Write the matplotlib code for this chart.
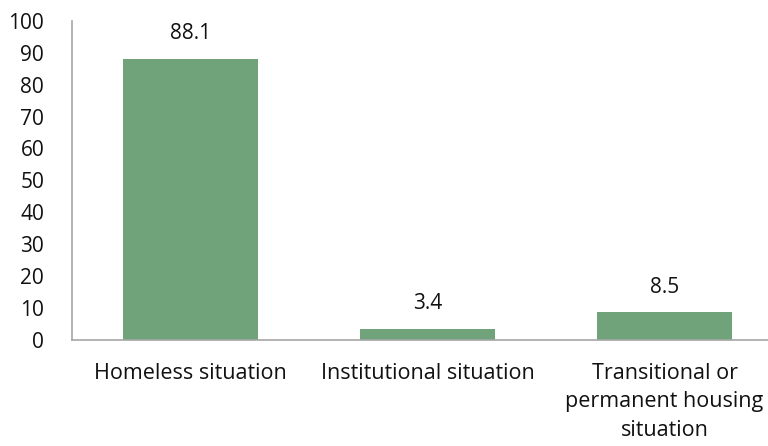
import matplotlib
matplotlib.use("Agg")
import matplotlib.pyplot as plt

categories = ["Homeless situation", "Institutional situation",
              "Transitional or\npermanent housing\nsituation"]
values = [88.1, 3.4, 8.5]
yticks = [0, 10, 20, 30, 40, 50, 60, 70, 80, 90, 100]

plt.rcParams["font.family"] = ["Open Sans", "DejaVu Sans"]
bar_color = "#70A37A"
axis_color = "#A6A6A6"
text_color = "#111111"

fig = plt.figure(figsize=(7.68, 4.46), dpi=100)
ax = fig.add_axes([72 / 768, 1 - 339.5 / 446, 711 / 768, 318.5 / 446])

x = list(range(len(categories)))
bars = ax.bar(x, values, width=0.57, color=bar_color)

for b, v in zip(bars, values):
    ax.annotate(f"{v}", (b.get_x() + b.get_width() / 2, v),
                xytext=(0, 14), textcoords="offset points",
                ha="center", va="baseline", fontsize=15, color=text_color)

ax.set_xlim(-0.5, len(categories) - 0.5)
ax.set_ylim(0, 100)
ax.set_yticks(yticks)
ax.set_xticks(x)
ax.set_xticklabels(categories, fontsize=15.5, color=text_color, linespacing=1.45)
ax.tick_params(axis="y", labelsize=15, labelcolor=text_color, length=0, pad=20)
ax.tick_params(axis="x", length=0, pad=17)

for side in ["top", "right"]:
    ax.spines[side].set_visible(False)
for side in ["left", "bottom"]:
    ax.spines[side].set_color(axis_color)
    ax.spines[side].set_linewidth(1.2)

fig.savefig("out.png", dpi=100)
